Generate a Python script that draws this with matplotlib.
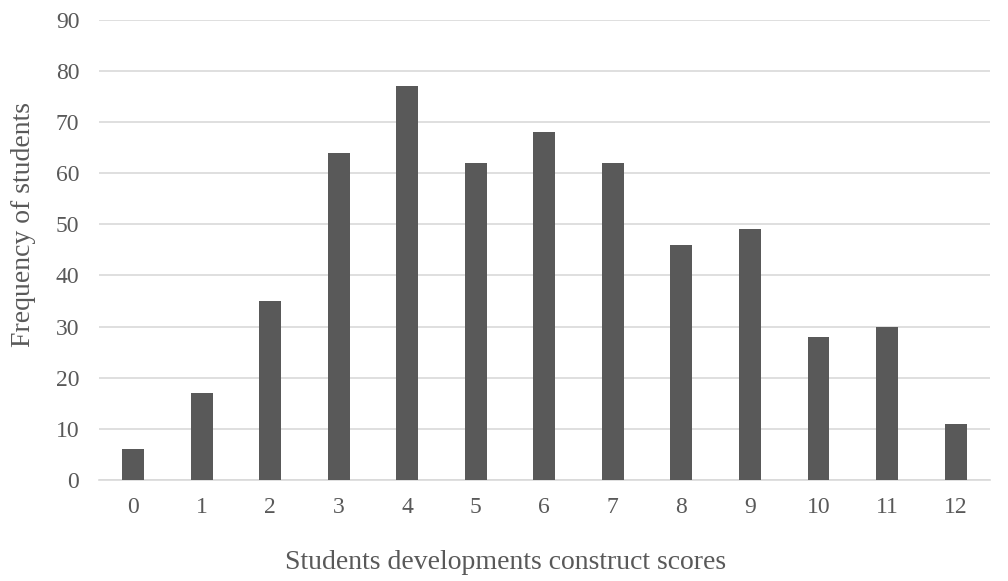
import matplotlib.pyplot as plt
import numpy as np

plt.rcParams['font.family'] = ['Liberation Serif', 'DejaVu Serif']

scores = ['0', '1', '2', '3', '4', '5', '6', '7', '8', '9', '10', '11', '12']
freq = [6, 17, 35, 64, 77, 62, 68, 62, 46, 49, 28, 30, 11]

fig = plt.figure(figsize=(10.08, 5.81), dpi=100)
ax = fig.add_axes([0.098, 0.174, 0.884, 0.792])

x = np.arange(len(scores))
ax.bar(x, freq, width=0.32, color='#595959', zorder=3)

ax.set_xlim(-0.5, len(scores) - 0.5)
ax.set_ylim(0, 90)
ax.set_yticks(range(0, 91, 10))
ax.set_xticks(x)
ax.set_xticklabels(scores)
ax.yaxis.grid(True, color='#d9d9d9', linewidth=1.2, zorder=0)

for s in ['top', 'right', 'left']:
    ax.spines[s].set_visible(False)
ax.spines['bottom'].set_color('#d9d9d9')
ax.spines['bottom'].set_linewidth(1.2)
ax.tick_params(length=0, labelsize=17, labelcolor='#595959')
ax.tick_params(axis='x', pad=12)
ax.tick_params(axis='y', pad=14)

# axis titles sit off-centre in the original, so place them on the figure
fig.text(0.502, 0.031, 'Students developments construct scores', fontsize=20,
         color='#595959', ha='center', va='center')
fig.text(0.023, 0.613, 'Frequency of students', fontsize=20, color='#595959',
         ha='center', va='center', rotation=90)

fig.savefig('out.png', dpi=100)
